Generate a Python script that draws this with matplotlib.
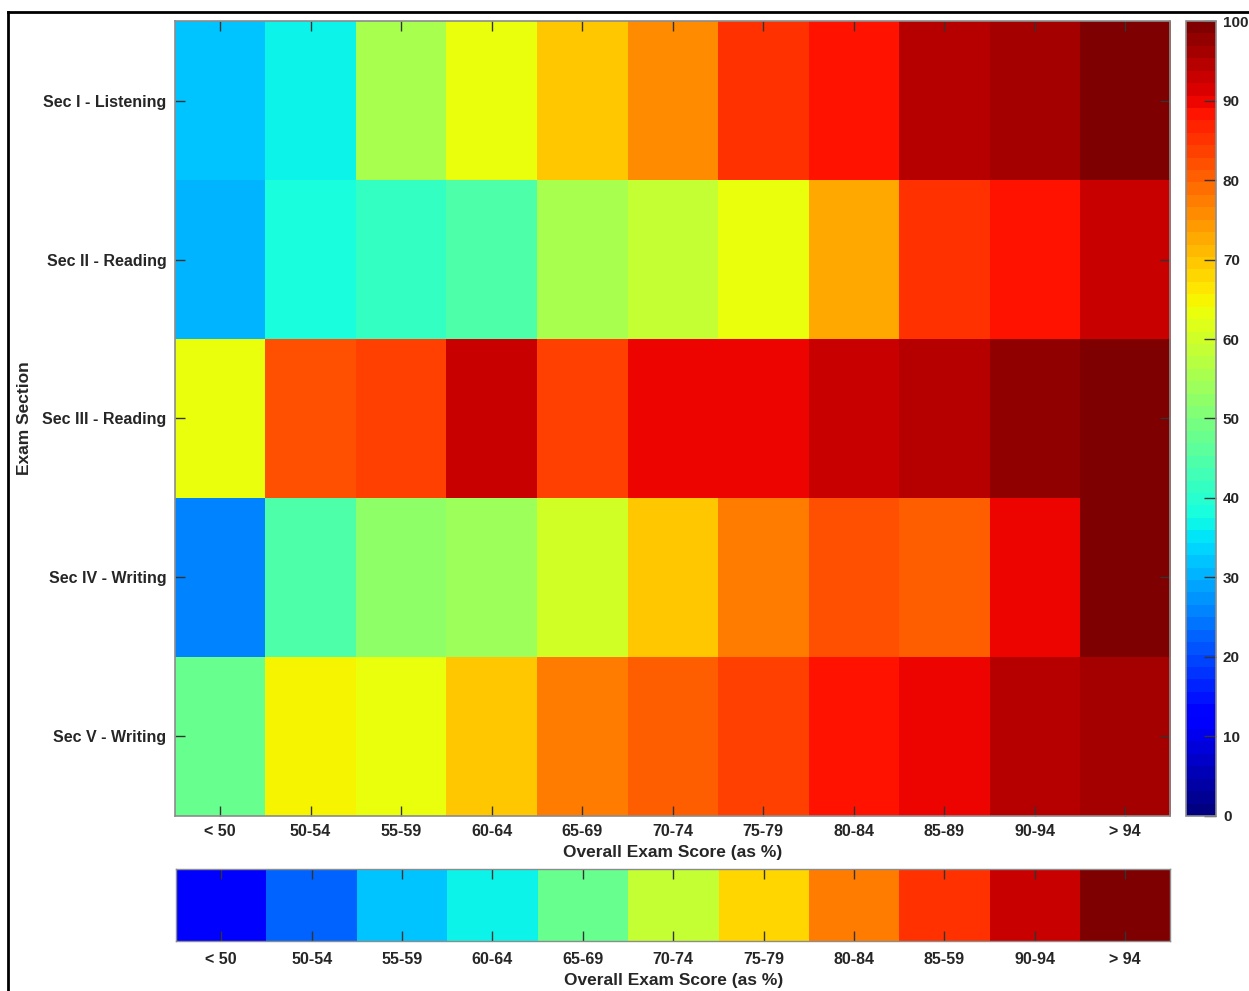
import numpy as np
import matplotlib
matplotlib.use('Agg')
import matplotlib.pyplot as plt
from matplotlib.lines import Line2D

plt.rcParams['font.family'] = ['Liberation Sans', 'DejaVu Sans']
plt.rcParams['font.weight'] = 'bold'

score_bins = ['< 50', '50-54', '55-59', '60-64', '65-69', '70-74',
              '75-79', '80-84', '85-89', '90-94', '> 94']
strip_labels = ['< 50', '50-54', '55-59', '60-64', '65-69', '70-74',
                '75-79', '80-84', '85-59', '90-94', '> 94']
sections = ['Sec I - Listening', 'Sec II - Reading', 'Sec III - Reading',
            'Sec IV - Writing', 'Sec V - Writing']

# percent correct per section, per overall score band
sec1 = [32.5, 36.5, 56, 63, 70, 76, 85, 88, 95, 96.5, 100]
sec2 = [31, 39, 41, 45, 56, 58, 63, 72, 85, 88, 93.5]
sec3 = [63, 82, 84, 93.5, 84, 90, 90, 93.5, 95, 97.6, 100]
sec4 = [25, 45, 52, 54, 60, 69, 77, 82, 80, 90, 100]
sec5 = [47, 65, 63, 69, 77, 81, 84, 87.5, 90, 95, 96.5]

# reference strip under the chart
strip_values = [12, 22, 32, 37, 48, 58, 67.5, 77, 85, 93, 100]

text_col = '#262626'
frame_col = '#8c8c8c'
cmap = plt.get_cmap('jet', 64)

fig = plt.figure(figsize=(12.49, 9.91), dpi=100)

ax = fig.add_axes([0.140, 0.1766, 0.797, 0.8022])
data = np.array([sec1, sec2, sec3, sec4, sec5])
im = ax.imshow(data, cmap=cmap, vmin=0, vmax=100, aspect='auto',
               interpolation='nearest')
ax.set_xticks(range(len(score_bins)))
ax.set_xticklabels(score_bins)
ax.set_yticks(range(len(sections)))
ax.set_yticklabels(sections)
ax.tick_params(direction='in', length=7, width=1, colors='#333333',
               labelcolor=text_col, labelsize=11.5, top=True, right=True,
               pad=6)
for s in ax.spines.values():
  s.set_color(frame_col)
  s.set_linewidth(1.2)
ax.set_xlabel('Overall Exam Score (as %)', fontsize=12.5, color=text_col,
              fontweight='bold', labelpad=4)
ax.set_ylabel('Exam Section', fontsize=12.5, color=text_col,
              fontweight='bold')
ax.yaxis.set_label_coords(-0.144, 0.5)

cax = fig.add_axes([0.9496, 0.1766, 0.024, 0.8022])
cb = fig.colorbar(im, cax=cax, ticks=np.arange(0, 101, 10))
cb.ax.tick_params(direction='in', length=9, width=1, colors='#333333',
                  labelcolor=text_col, labelsize=11, pad=5)
cb.outline.set_edgecolor(frame_col)
cb.outline.set_linewidth(1.2)

sax = fig.add_axes([0.141, 0.0505, 0.796, 0.0727])
sax.imshow(np.array([strip_values]), cmap=cmap, vmin=0, vmax=100,
           aspect='auto', interpolation='nearest')
sax.set_xticks(range(len(strip_labels)))
sax.set_xticklabels(strip_labels)
sax.set_yticks([])
sax.tick_params(direction='in', length=7, width=1, colors='#333333',
                labelcolor=text_col, labelsize=11.5, top=True, pad=8)
for s in sax.spines.values():
  s.set_color(frame_col)
  s.set_linewidth(1)
sax.set_xlabel('Overall Exam Score (as %)', fontsize=12.5, color=text_col,
               fontweight='bold', labelpad=4)

# screenshot frame (top and left edges)
fig.add_artist(Line2D([8 / 1249, 1.0], [1 - 12 / 991, 1 - 12 / 991],
                      transform=fig.transFigure, color='black', lw=2))
fig.add_artist(Line2D([8 / 1249, 8 / 1249], [0.0, 1 - 12 / 991],
                      transform=fig.transFigure, color='black', lw=2))

fig.savefig('out.png', dpi=100)
